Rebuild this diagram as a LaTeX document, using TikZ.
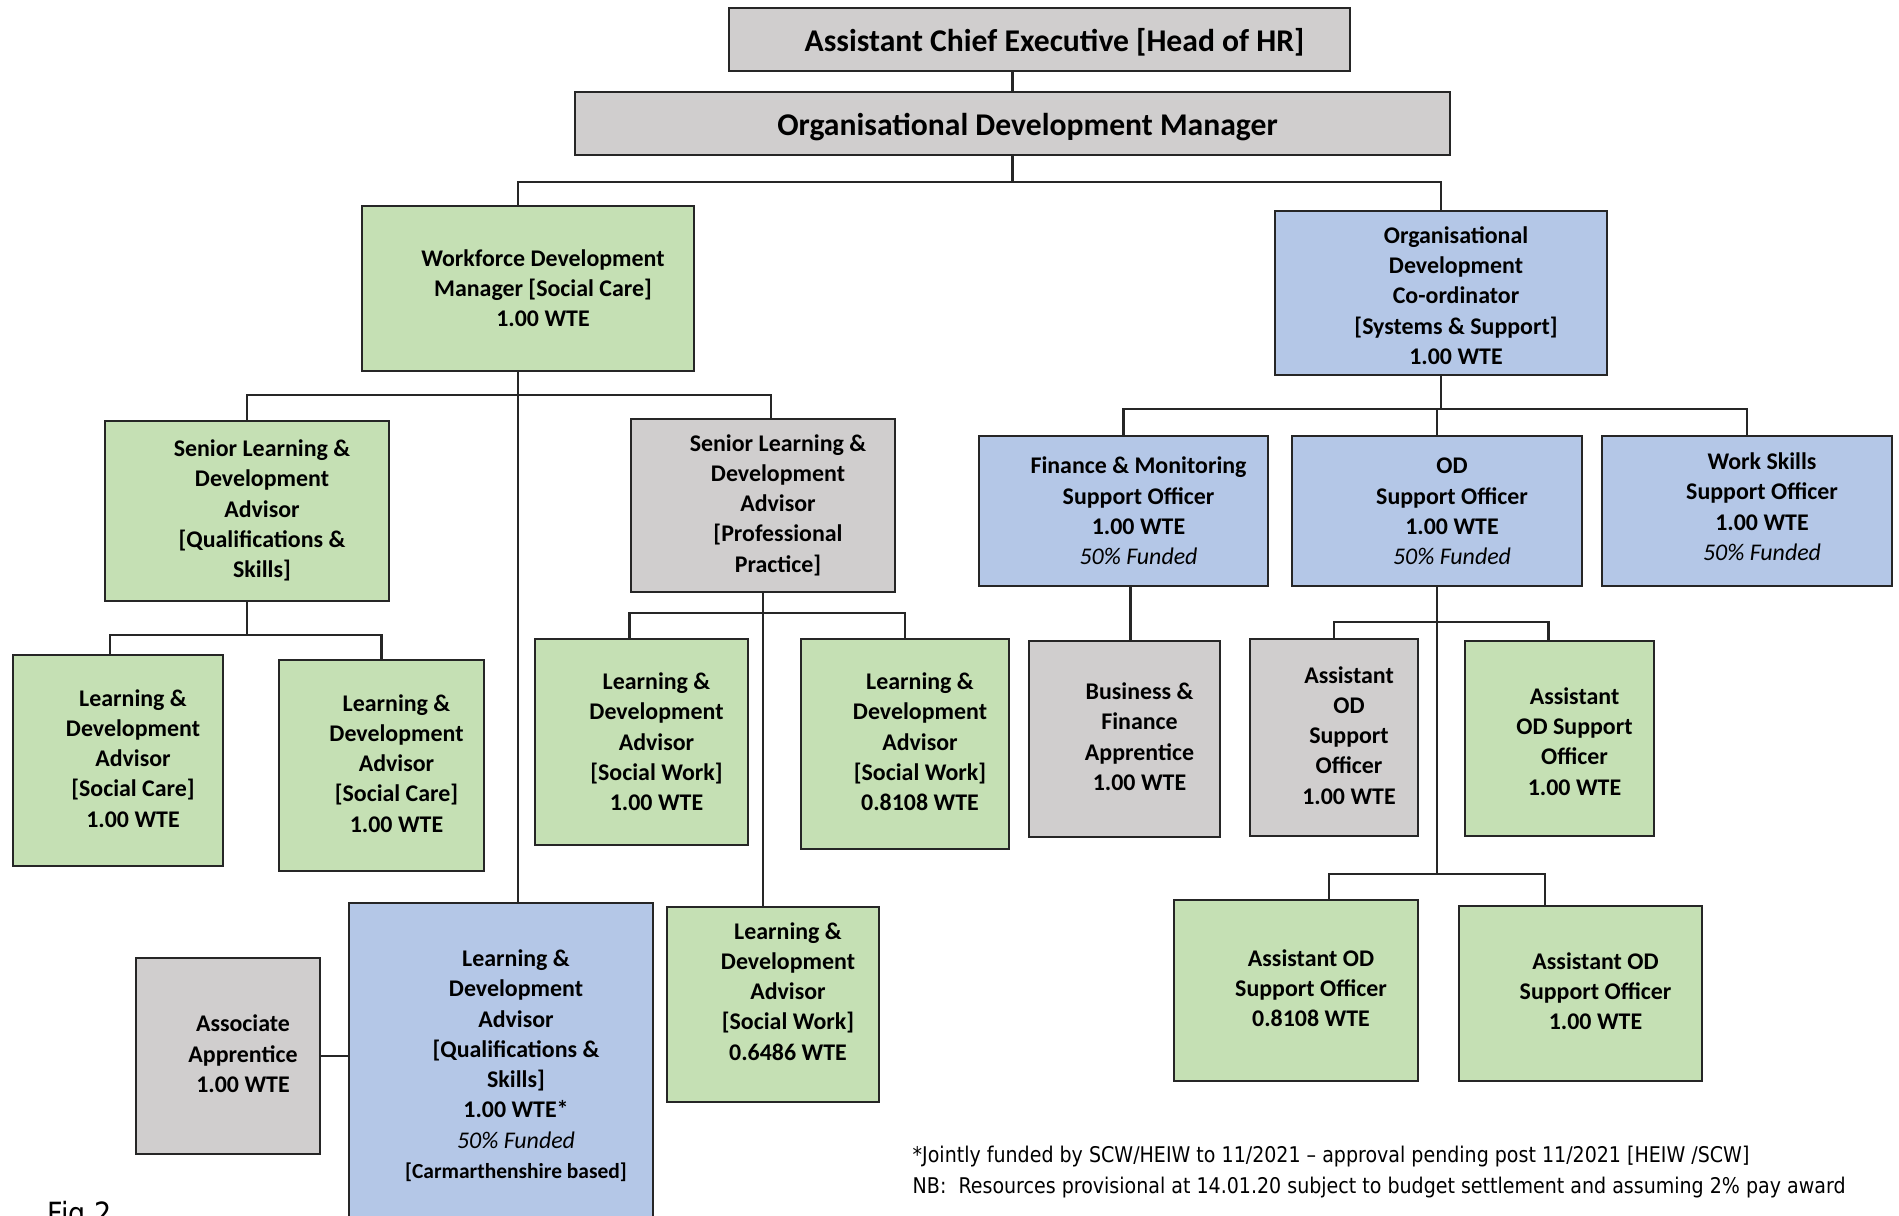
\documentclass[tikz,border=0pt]{standalone}
\usepackage{fontspec}
\setmainfont{Carlito}
\newfontfamily\notefont[FakeStretch=0.88]{DejaVu Sans}
\definecolor{rolegreen}{RGB}{197,224,180}
\definecolor{roleblue}{RGB}{180,199,231}
\definecolor{rolegrey}{RGB}{208,206,206}
\newcommand{\role}[2][0pt]{\hspace*{0.3cm}\raisebox{#1}[\height][\depth]{\begin{tabular}{@{}c@{}}#2\end{tabular}}}
\newcommand{\funded}{{\mdseries\itshape 50\% Funded}}

\begin{document}
\begin{tikzpicture}[x=0.01cm, y=-0.01cm,
    post/.style={rectangle, draw=black!85, line width=0.7pt, inner sep=0pt, font=\fontsize{6.8}{8.6}\selectfont\bfseries},
    greenpost/.style={post, fill=rolegreen},
    bluepost/.style={post, fill=roleblue},
    greypost/.style={post, fill=rolegrey},
    headpost/.style={greypost, font=\fontsize{9}{11}\selectfont\bfseries},
    note/.style={inner sep=0pt, align=left, font=\notefont\fontsize{6.15}{8.8}\selectfont},
    link/.style={line width=0.6pt, black!85}]

\useasboundingbox (0,0) rectangle (1899,1216);

% Head of HR and OD manager
\node[headpost, minimum width=6.21cm, minimum height=0.63cm] (chief) at (1039.5,39.5) {\role[-1.1pt]{Assistant Chief Executive [Head of HR]}};
\node[headpost, minimum width=8.75cm, minimum height=0.63cm] (odm) at (1012.5,123.5) {\role[-1.1pt]{Organisational Development Manager}};

% Second tier
\node[greenpost, minimum width=3.32cm, minimum height=1.65cm] (wdm) at (528,288.5) {\role[-0.5pt]{Workforce Development\\Manager [Social Care]\\1.00 WTE}};
\node[bluepost, minimum width=3.32cm, minimum height=1.64cm] (odc) at (1441,293) {\role[-1.4pt]{Organisational\\Development\\Co-ordinator\\{[Systems \& Support]}\\1.00 WTE}};

% Workforce development branch
\node[greenpost, minimum width=2.84cm, minimum height=1.80cm] (sqs) at (247,511) {\role{Senior Learning \&\\Development\\Advisor\\{[Qualifications \&}\\Skills]}};
\node[greypost, minimum width=2.64cm, minimum height=1.73cm] (spp) at (763,505.5) {\role{Senior Learning \&\\Development\\Advisor\\{[Professional}\\Practice]}};
\node[greenpost, minimum width=2.10cm, minimum height=2.11cm] (sc1) at (118,760.5) {\role{Learning \&\\Development\\Advisor\\{[Social Care]}\\1.00 WTE}};
\node[greenpost, minimum width=2.05cm, minimum height=2.11cm] (sc2) at (381.5,765.5) {\role{Learning \&\\Development\\Advisor\\{[Social Care]}\\1.00 WTE}};
\node[greenpost, minimum width=2.13cm, minimum height=2.06cm] (sw1) at (641.5,742) {\role[-0.6pt]{Learning \&\\Development\\Advisor\\{[Social Work]}\\1.00 WTE}};
\node[greenpost, minimum width=2.08cm, minimum height=2.10cm] (sw2) at (905,744) {\role{Learning \&\\Development\\Advisor\\{[Social Work]}\\0.8108 WTE}};
\node[greenpost, minimum width=2.12cm, minimum height=1.95cm] (sw3) at (773,1004.5) {\role[3.1pt]{Learning \&\\Development\\Advisor\\{[Social Work]}\\0.6486 WTE}};
\node[bluepost, minimum width=3.04cm, minimum height=3.27cm] (lqs) at (501,1066.5) {\role{Learning \&\\Development\\Advisor\\{[Qualifications \&}\\Skills]\\1.00 WTE*\\\funded\\{\fontsize{6.1}{8.6}\selectfont[Carmarthenshire based]}}};
\node[greypost, minimum width=1.84cm, minimum height=1.96cm] (assoc) at (228,1056) {\role{Associate\\Apprentice\\1.00 WTE}};

% OD co-ordinator branch
\node[bluepost, minimum width=2.89cm, minimum height=1.50cm] (fin) at (1123.5,511) {\role[-0.6pt]{Finance \& Monitoring\\Support Officer\\1.00 WTE\\\funded}};
\node[bluepost, minimum width=2.90cm, minimum height=1.50cm] (odso) at (1437,511) {\role[-0.6pt]{OD\\Support Officer\\1.00 WTE\\\funded}};
\node[bluepost, minimum width=2.90cm, minimum height=1.50cm] (wss) at (1747,511) {\role[0.6pt]{Work Skills\\Support Officer\\1.00 WTE\\\funded}};
\node[greypost, minimum width=1.91cm, minimum height=1.96cm] (bfa) at (1124.5,739) {\role{Business \&\\Finance\\Apprentice\\1.00 WTE}};
\node[greypost, minimum width=1.68cm, minimum height=1.97cm] (aog) at (1334,737.5) {\role{Assistant\\OD\\Support\\Officer\\1.00 WTE}};
\node[greenpost, minimum width=1.89cm, minimum height=1.95cm] (aogr) at (1559.5,738.5) {\role[-1.5pt]{Assistant\\OD Support\\Officer\\1.00 WTE}};
\node[greenpost, minimum width=2.44cm, minimum height=1.81cm] (aod1) at (1296,990.5) {\role{Assistant OD\\Support Officer\\0.8108 WTE}};
\node[greenpost, minimum width=2.43cm, minimum height=1.75cm] (aod2) at (1580.5,993.5) {\role{Assistant OD\\Support Officer\\1.00 WTE}};

% Junctions
\coordinate (topbus) at (1012.5,182);
\coordinate (wdmbus) at (518,395);
\coordinate (sqsbus) at (247,635);
\coordinate (sppbus) at (763,613);
\coordinate (odcbus) at (1441,409);
\coordinate (odsobus) at (1437,622);
\coordinate (asstbus) at (1437,874);

% Lines
\draw[link] (odm.north) -- (odm.north |- chief.south);
\draw[link] (odm.south) -- (topbus);
\draw[link] ([xshift=-0.1cm]wdm.north) |- (topbus) -| (odc.north);

\draw[link] ([xshift=-0.1cm]wdm.south) -- ([xshift=-0.1cm]wdm.south |- lqs.north);
\draw[link] (sqs.north) |- (wdmbus) -| ([xshift=0.08cm]spp.north);
\draw[link] (sqs.south) -- (sqsbus);
\draw[link] ([xshift=-0.08cm]sc1.north) |- (sqsbus) -| (sc2.north);
\draw[link] (spp.south) -- (spp.south |- sw3.north);
\draw[link] ([xshift=-0.12cm]sw1.north) |- (sppbus) -| (sw2.north);
\draw[link] (assoc.east) -- (assoc.east -| lqs.west);

\draw[link] (odc.south) -- (odcbus);
\draw[link] (fin.north) |- (odcbus) -| (wss.north);
\draw[link] (odso.north) -- (odso.north |- odcbus);
\draw[link] ([xshift=0.07cm]fin.south) -- ([xshift=0.07cm]fin.south |- bfa.north);
\draw[link] (odso.south) -- (asstbus);
\draw[link] (aog.north) |- (odsobus) -| ([xshift=-0.11cm]aogr.north);
\draw[link] ([xshift=0.33cm]aod1.north) |- (asstbus) -| ([xshift=-0.355cm]aod2.north);

% Notes
\node[note, anchor=west] (notes) at (912,1172.5) {*Jointly funded by SCW/HEIW to 11/2021 – approval pending post 11/2021 [HEIW /SCW]\\NB:\ \ Resources provisional at 14.01.20 subject to budget settlement and assuming 2\% pay award};
\node[note, anchor=base west, font=\notefont\fontsize{8.7}{10}\selectfont] (fig) at (47,1225) {Fig 2};

\end{tikzpicture}
\end{document}
